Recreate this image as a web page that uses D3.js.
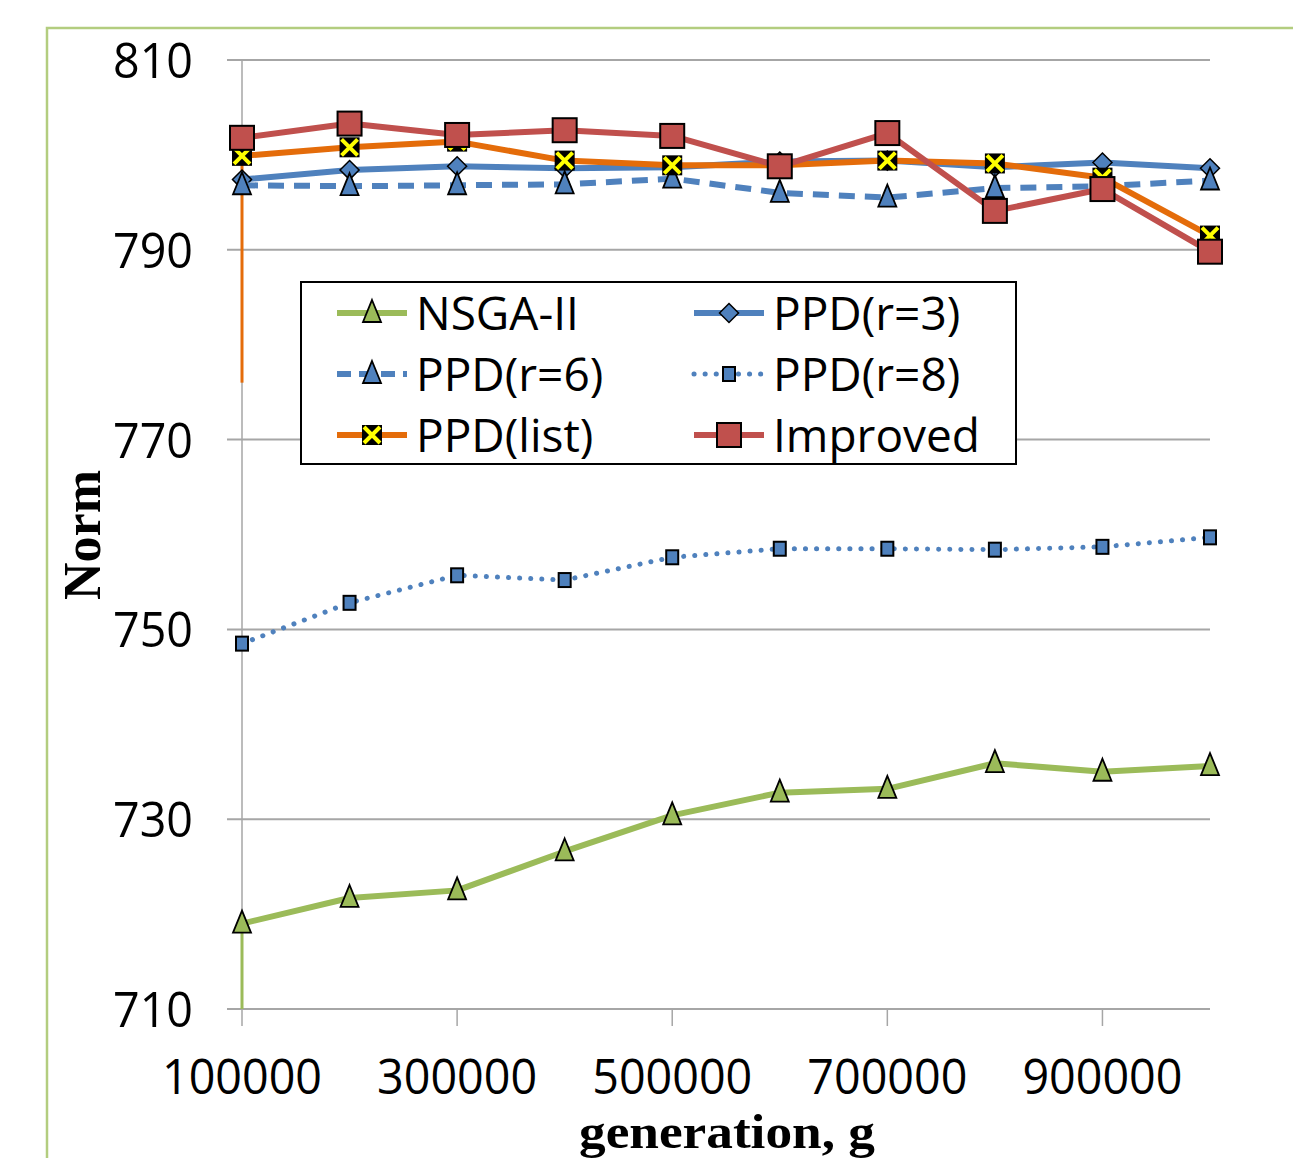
<!DOCTYPE html>
<html>
<head>
<meta charset="utf-8">
<script src="https://cdn.jsdelivr.net/npm/d3@7"></script>
<style>
  body { margin: 0; background: #fff; }
  svg { display: block; }
  .tick-label { font-family: "Liberation Sans Narrow", "Open Sans", sans-serif; fill: #000; }
  .title { font-family: "Liberation Serif", "Times New Roman", serif; font-weight: bold; fill: #000; }
</style>
</head>
<body>
<svg id="chart" width="1293" height="1158"></svg>
<script>
// generations on the x axis
var generations = [100000, 200000, 300000, 400000, 500000, 600000, 700000, 800000, 900000, 1000000];
var xTickValues = [100000, 300000, 500000, 700000, 900000];
var yTickValues = [710, 730, 750, 770, 790, 810];

// Norm values
var nsga2    = [719.0, 721.7, 722.5, 726.6, 730.4, 732.8, 733.2, 735.9, 735.0, 735.6];
var ppdR3    = [797.4, 798.4, 798.8, 798.6, 798.7, 799.3, 799.4, 798.7, 799.2, 798.6];
var ppdR6    = [796.8, 796.7, 796.8, 796.9, 797.5, 796.0, 795.5, 796.5, 796.7, 797.3];
var ppdR8    = [748.5, 752.8, 755.7, 755.2, 757.6, 758.5, 758.5, 758.4, 758.7, 759.7];
var ppdList  = [799.9, 800.8, 801.4, 799.4, 798.9, 798.9, 799.4, 799.1, 797.6, 791.5];
var improved = [801.8, 803.3, 802.1, 802.6, 802.0, 798.8, 802.3, 794.1, 796.4, 789.8];

// stray drop lines hanging from the first point of two series in the original
var leadInNames  = ["NSGA-II", "PPD(list)"];
var leadInValues = [710, 776];

var series = [
    { name: "NSGA-II",   values: nsga2,    color: "#9bbb59", dash: null,     marker: "triangle", fill: "#9bbb59" },
    { name: "PPD(r=3)",  values: ppdR3,    color: "#4f81bd", dash: null,     marker: "diamond",  fill: "#4f81bd" },
    { name: "PPD(r=6)",  values: ppdR6,    color: "#4f81bd", dash: "16,10",  marker: "triangle", fill: "#4f81bd" },
    { name: "PPD(r=8)",  values: ppdR8,    color: "#4f81bd", dash: "0.1,11", marker: "smallsq",  fill: "#4f81bd" },
    { name: "PPD(list)", values: ppdList,  color: "#e46c0a", dash: null,     marker: "xbox",     fill: "#000" },
    { name: "Improved",  values: improved, color: "#c0504d", dash: null,     marker: "square",   fill: "#c0504d" }
];

var svg = d3.select("#chart");

var x = d3.scaleLinear().domain([100000, 1000000]).range([242, 1210]);
var y = d3.scaleLinear().domain([710, 810]).range([1009, 60]);

// green frame around the chart
svg.append("path")
    .attr("d", "M47,1158L47,28L1293,28")
    .attr("fill", "none")
    .attr("stroke", "#b3cd7f")
    .attr("stroke-width", 2.5);

// horizontal grid lines (they poke out left of the axis like tick marks)
svg.selectAll(".grid")
    .data(yTickValues)
    .enter().append("line")
    .attr("x1", 227).attr("x2", x(1000000))
    .attr("y1", function(d) { return y(d); })
    .attr("y2", function(d) { return y(d); })
    .attr("stroke", "#a6a6a6")
    .attr("stroke-width", 2);

// y axis line
svg.append("line")
    .attr("x1", x(100000)).attr("x2", x(100000))
    .attr("y1", y(810)).attr("y2", y(710))
    .attr("stroke", "#a6a6a6")
    .attr("stroke-width", 1.5);

// x tick marks
svg.selectAll(".xtick")
    .data(xTickValues)
    .enter().append("line")
    .attr("x1", function(d) { return x(d); })
    .attr("x2", function(d) { return x(d); })
    .attr("y1", y(710)).attr("y2", y(710) + 17)
    .attr("stroke", "#a6a6a6")
    .attr("stroke-width", 1.5);

// y tick labels
svg.selectAll(".ylab")
    .data(yTickValues)
    .enter().append("text")
    .attr("class", "tick-label")
    .attr("x", 193)
    .attr("y", function(d) { return y(d); })
    .attr("dy", "0.36em")
    .attr("text-anchor", "end")
    .attr("font-size", 50)
    .attr("textLength", 80)
    .attr("lengthAdjust", "spacingAndGlyphs")
    .text(function(d) { return d; });

// x tick labels
svg.selectAll(".xlab")
    .data(xTickValues)
    .enter().append("text")
    .attr("class", "tick-label")
    .attr("x", function(d) { return x(d); })
    .attr("y", 1094)
    .attr("text-anchor", "middle")
    .attr("font-size", 49)
    .attr("textLength", 160)
    .attr("lengthAdjust", "spacingAndGlyphs")
    .text(function(d) { return d; });

// axis titles
svg.append("text")
    .attr("class", "title")
    .attr("x", 727).attr("y", 1148)
    .attr("text-anchor", "middle")
    .attr("font-size", 49)
    .attr("textLength", 296)
    .attr("lengthAdjust", "spacingAndGlyphs")
    .text("generation, g");

svg.append("text")
    .attr("class", "title")
    .attr("transform", "translate(100,535) rotate(-90)")
    .attr("text-anchor", "middle")
    .attr("font-size", 52)
    .text("Norm");

// marker drawing
function drawMarker(g, s) {
    if (s.marker == "triangle") {
        g.append("path").attr("d", "M0,-13L9,9L-9,9Z")
            .attr("fill", s.fill).attr("stroke", "#000").attr("stroke-width", 1.8);
    } else if (s.marker == "diamond") {
        g.append("path").attr("d", "M0,-9.5L9.5,0L0,9.5L-9.5,0Z")
            .attr("fill", s.fill).attr("stroke", "#000").attr("stroke-width", 1.5);
    } else if (s.marker == "smallsq") {
        g.append("rect").attr("x", -6).attr("y", -7).attr("width", 12).attr("height", 14)
            .attr("fill", s.fill).attr("stroke", "#000").attr("stroke-width", 2);
    } else if (s.marker == "square") {
        g.append("rect").attr("x", -12).attr("y", -12).attr("width", 24).attr("height", 24)
            .attr("fill", s.fill).attr("stroke", "#000").attr("stroke-width", 2);
    } else if (s.marker == "xbox") {
        g.append("rect").attr("x", -10).attr("y", -10).attr("width", 20).attr("height", 20)
            .attr("fill", "#000");
        g.append("path").attr("d", "M-8,-8L8,8M8,-8L-8,8")
            .attr("stroke", "#ffff00").attr("stroke-width", 4);
    }
}

var line = d3.line()
    .x(function(d, i) { return x(generations[i]); })
    .y(function(d) { return y(d); });

// drop lines first
for (var k = 0; k < leadInNames.length; k++) {
    var s0 = series.filter(function(s) { return s.name == leadInNames[k]; })[0];
    svg.append("line")
        .attr("x1", x(generations[0])).attr("x2", x(generations[0]))
        .attr("y1", y(s0.values[0])).attr("y2", y(leadInValues[k]))
        .attr("stroke", s0.color)
        .attr("stroke-width", 3);
}

series.forEach(function(s) {
    var path = svg.append("path")
        .datum(s.values)
        .attr("d", line)
        .attr("fill", "none")
        .attr("stroke", s.color)
        .attr("stroke-width", 6)
        .attr("stroke-linejoin", "round");
    if (s.dash) {
        path.attr("stroke-dasharray", s.dash);
        if (s.marker == "smallsq") path.attr("stroke-linecap", "round").attr("stroke-width", 5);
    }
    s.values.forEach(function(v, i) {
        var g = svg.append("g")
            .attr("transform", "translate(" + x(generations[i]) + "," + y(v) + ")");
        drawMarker(g, s);
    });
});

// legend
var legend = svg.append("g");
legend.append("rect")
    .attr("x", 301).attr("y", 282).attr("width", 715).attr("height", 182)
    .attr("fill", "#fff").attr("stroke", "#000").attr("stroke-width", 2);

series.forEach(function(s, i) {
    var col = i % 2, row = Math.floor(i / 2);
    var lx = col == 0 ? 337 : 694;
    var ly = 313 + row * 61;
    var item = legend.append("g").attr("transform", "translate(" + lx + "," + ly + ")");
    var l = item.append("line")
        .attr("x1", 0).attr("x2", 70).attr("y1", 0).attr("y2", 0)
        .attr("stroke", s.color).attr("stroke-width", 6);
    if (s.dash) {
        l.attr("stroke-dasharray", s.dash == "16,10" ? "14,8" : s.dash);
        if (s.marker == "smallsq") l.attr("stroke-linecap", "round").attr("stroke-width", 5);
    }
    var m = item.append("g").attr("transform", "translate(35,0)");
    drawMarker(m, s);
    item.append("text")
        .attr("class", "tick-label")
        .attr("x", 79).attr("y", 0).attr("dy", "0.36em")
        .attr("font-size", 46)
        .text(s.name);
});
</script>
</body>
</html>
